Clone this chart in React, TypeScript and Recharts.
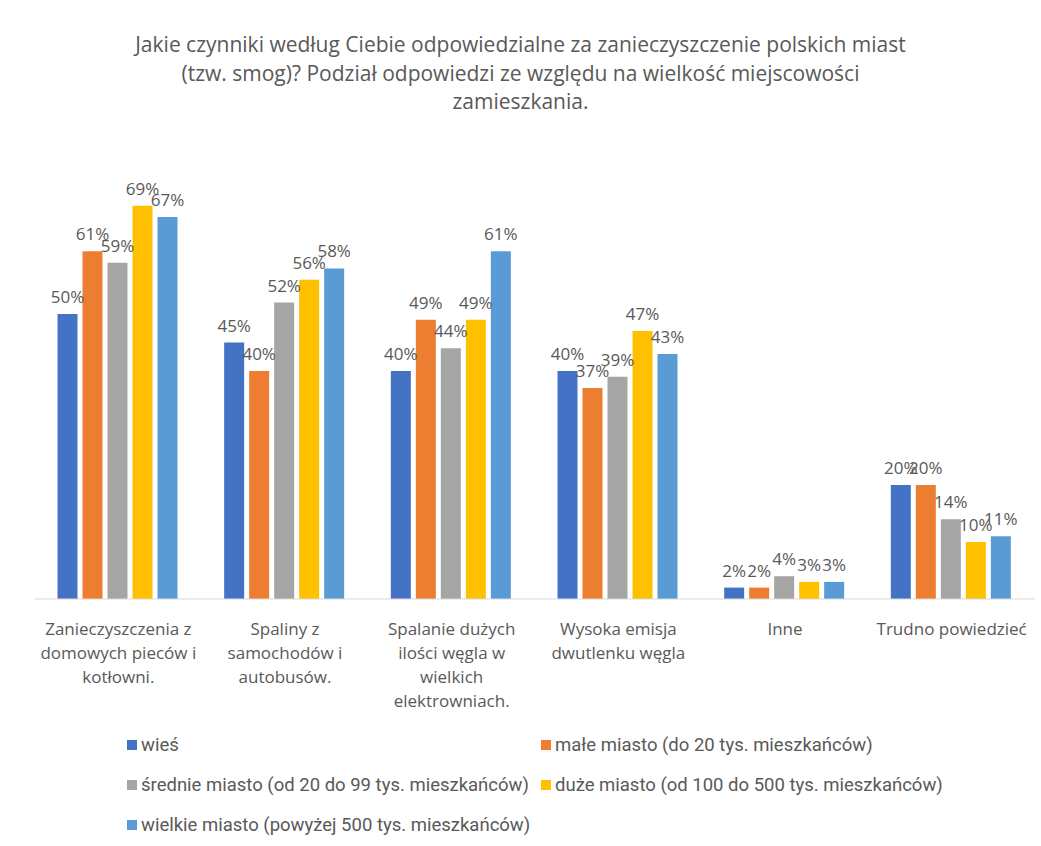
import { BarChart, Bar, XAxis, YAxis, LabelList } from 'recharts';

const categories = [
  'Zanieczyszczenia z\ndomowych pieców i\nkotłowni.',
  'Spaliny z\nsamochodów i\nautobusów.',
  'Spalanie dużych\nilości węgla w\nwielkich\nelektrowniach.',
  'Wysoka emisja\ndwutlenku węgla',
  'Inne',
  'Trudno powiedzieć',
];

const wies = [50, 45, 40, 40, 2, 20];
const maleMiasto = [61, 40, 49, 37, 2, 20];
const srednieMiasto = [59, 52, 44, 39, 4, 14];
const duzeMiasto = [69, 56, 49, 47, 3, 10];
const wielkieMiasto = [67, 58, 61, 43, 3, 11];

const seriesNames = [
  'wieś',
  'małe miasto (do 20 tys. mieszkańców)',
  'średnie miasto (od 20 do 99 tys. mieszkańców)',
  'duże miasto (od 100 do 500 tys. mieszkańców)',
  'wielkie miasto (powyżej 500 tys. mieszkańców)',
];

const COLORS = ['#4472C4', '#ED7D31', '#A5A5A5', '#FFC000', '#5B9BD5'];
const KEYS = ['s0', 's1', 's2', 's3', 's4'];

const data = categories.map((name, i) => ({
  name,
  s0: wies[i],
  s1: maleMiasto[i],
  s2: srednieMiasto[i],
  s3: duzeMiasto[i],
  s4: wielkieMiasto[i],
}));

const TEXT = '#595959';
const FONT = '"Open Sans", "Noto Sans", sans-serif';

function CategoryTick({ x, y, payload }: any) {
  const lines = String(payload.value).split('\n');
  return (
    <text x={x} y={y} textAnchor="middle" fill={TEXT} fontSize={17} fontFamily={FONT}>
      {lines.map((line, i) => (
        <tspan key={i} x={x} dy={i === 0 ? 28 : 24}>
          {line}
        </tspan>
      ))}
    </text>
  );
}

export default function App() {
  return (
    <div
      style={{
        position: 'absolute',
        left: 0,
        top: 0,
        width: 1041,
        height: 846,
        background: '#fff',
        fontFamily: FONT,
      }}
    >
      <div
        style={{
          position: 'absolute',
          top: 30,
          left: 0,
          width: 1041,
          textAlign: 'center',
          color: TEXT,
          fontSize: 21,
          lineHeight: '28.5px',
        }}
      >
        Jakie czynniki według Ciebie odpowiedzialne za zanieczyszczenie polskich miast
        <br />
        (tzw. smog)? Podział odpowiedzi ze względu na wielkość miejscowości
        <br />
        zamieszkania.
      </div>

      <div style={{ position: 'absolute', top: 0, left: 0 }}>
        <BarChart
          width={1041}
          height={846}
          data={data}
          margin={{ top: 143, right: 6, bottom: 117, left: 35 }}
          barCategoryGap="13.5%"
          barGap={5}
        >
          <XAxis
            dataKey="name"
            interval={0}
            height={130}
            axisLine={{ stroke: '#d9d9d9' }}
            tickLine={false}
            tick={<CategoryTick />}
          />
          <YAxis hide domain={[0, 80]} />
          {KEYS.map((k, i) => (
            <Bar key={k} dataKey={k} fill={COLORS[i]} isAnimationActive={false}>
              <LabelList
                dataKey={k}
                position="top"
                offset={11}
                formatter={(v: any) => `${v}%`}
                style={{ fill: TEXT, fontSize: 17, fontFamily: FONT }}
              />
            </Bar>
          ))}
        </BarChart>
      </div>

      <div
        style={{
          position: 'absolute',
          top: 733,
          left: 127,
          display: 'grid',
          gridTemplateColumns: '414px 440px',
          rowGap: 16,
          color: TEXT,
          fontSize: 18.5,
          lineHeight: '24px',
          fontFamily: '"Liberation Sans Narrow", Roboto, sans-serif',
        }}
      >
        {seriesNames.map((n, i) => (
          <div key={n} style={{ display: 'flex', alignItems: 'center', whiteSpace: 'nowrap' }}>
            <span
              style={{
                display: 'inline-block',
                width: 10,
                height: 10,
                background: COLORS[i],
                marginRight: 4,
              }}
            />
            {n}
          </div>
        ))}
      </div>
    </div>
  );
}
